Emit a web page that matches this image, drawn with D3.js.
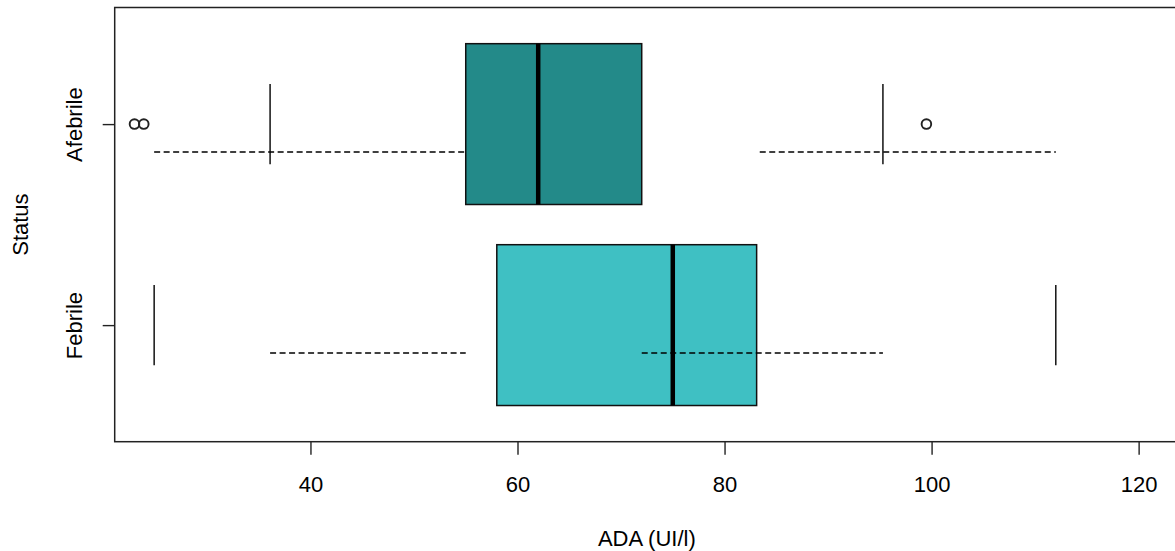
<!DOCTYPE html>
<html>

<head>
    <meta http-equiv="Content-Type" content="text/html; charset=utf-8" />
    <title>ADA boxplot</title>
    <style type="text/css">
        * {
            margin: 0;
            padding: 0
        }

        html,
        body {
            width: 100%;
            height: 100%;
            background: #fff;
            overflow: hidden;
        }

        svg text {
            font-family: "Liberation Sans", Arial, sans-serif;
            font-size: 22px;
            fill: #000;
        }
    </style>
</head>

<body>
    <svg id="chart" width="1175" height="551"></svg>
    <script src="https://cdn.jsdelivr.net/npm/d3@7"></script>
    <script>
        // groups, top to bottom
        const groups = ["Afebrile", "Febrile"];
        const q1 = [55, 58];
        const medians = [62, 75];
        const q3 = [72, 83.1];
        // staples (whisker ends) as drawn in each row
        const staples = [[36.1, 95.3], [24.9, 112]];
        // dashed whisker segments as drawn in each row
        const whiskers = [[[24.9, 55], [83.4, 112]], [[36.1, 55], [72, 95.3]]];
        const outliers = [[23.0, 23.9, 99.5], []];
        const xTicks = [40, 60, 80, 100, 120];
        const colors = ["#238a89", "#3fc0c3"];

        const svg = d3.select("#chart");
        const plot = { left: 114.7, right: 1179, top: 7.5, bottom: 441.7 };

        const x = d3.scaleLinear().domain([21.09, 123.9]).range([plot.left, plot.right]);
        // R style positions 1..n, with 4% padding
        const y = d3.scaleLinear().domain([0.42, 2.58]).range([plot.top, plot.bottom]);

        const g = svg.append("g");

        groups.forEach((name, i) => {
            const c = i + 1;
            // box
            g.append("rect")
                .attr("x", x(q1[i])).attr("width", x(q3[i]) - x(q1[i]))
                .attr("y", y(c - 0.4)).attr("height", y(c + 0.4) - y(c - 0.4))
                .attr("fill", colors[i]).attr("stroke", "#111").attr("stroke-width", 1.5);
            // median
            g.append("line")
                .attr("x1", x(medians[i])).attr("x2", x(medians[i]))
                .attr("y1", y(c - 0.4)).attr("y2", y(c + 0.4))
                .attr("stroke", "#000").attr("stroke-width", 4.5);
            // dashed whiskers
            g.selectAll(null).data(whiskers[i]).join("line")
                .attr("x1", d => x(d[0])).attr("x2", d => x(d[1]))
                .attr("y1", y(c + 0.139)).attr("y2", y(c + 0.139))
                .attr("stroke", "#000").attr("stroke-width", 1.4)
                .attr("stroke-dasharray", "6,3.5");
            // staples
            g.selectAll(null).data(staples[i]).join("line")
                .attr("x1", d => x(d)).attr("x2", d => x(d))
                .attr("y1", y(c - 0.2)).attr("y2", y(c + 0.2))
                .attr("stroke", "#000").attr("stroke-width", 1.4);
            // outliers
            g.selectAll(null).data(outliers[i]).join("circle")
                .attr("cx", d => x(d)).attr("cy", y(c))
                .attr("r", 4.8).attr("fill", "none")
                .attr("stroke", "#222").attr("stroke-width", 1.9);
        });

        // plot frame
        svg.append("rect")
            .attr("x", plot.left).attr("y", plot.top)
            .attr("width", plot.right - plot.left).attr("height", plot.bottom - plot.top)
            .attr("fill", "none").attr("stroke", "#222").attr("stroke-width", 1.5);

        // x axis
        const xAxis = svg.append("g")
            .attr("transform", `translate(0,${plot.bottom})`)
            .call(d3.axisBottom(x).tickValues(xTicks).tickSize(13).tickSizeOuter(0));
        xAxis.select(".domain").remove();
        xAxis.selectAll("line").attr("stroke", "#222").attr("stroke-width", 1.4);
        xAxis.selectAll("text").attr("font-size", 22).attr("font-family", null).attr("dy", null)
            .attr("y", 50);

        // y axis
        const yAxis = svg.append("g")
            .attr("transform", `translate(${plot.left},0)`)
            .call(d3.axisLeft(y).tickValues([1, 2]).tickSize(12).tickFormat(d => groups[d - 1]));
        yAxis.select(".domain").remove();
        yAxis.selectAll("line").attr("stroke", "#222").attr("stroke-width", 1.4);
        yAxis.selectAll("text")
            .attr("font-size", 22).attr("font-family", null)
            .attr("x", 0).attr("y", 0).attr("dy", null)
            .attr("text-anchor", "middle")
            .attr("transform", `translate(${82 - plot.left},0) rotate(-90)`);

        // axis titles
        svg.append("text")
            .attr("x", (plot.left + plot.right) / 2).attr("y", 546)
            .attr("text-anchor", "middle").text("ADA (UI/l)");
        svg.append("text")
            .attr("transform", `translate(28,${(plot.top + plot.bottom) / 2}) rotate(-90)`)
            .attr("text-anchor", "middle").text("Status");
    </script>
</body>

</html>
